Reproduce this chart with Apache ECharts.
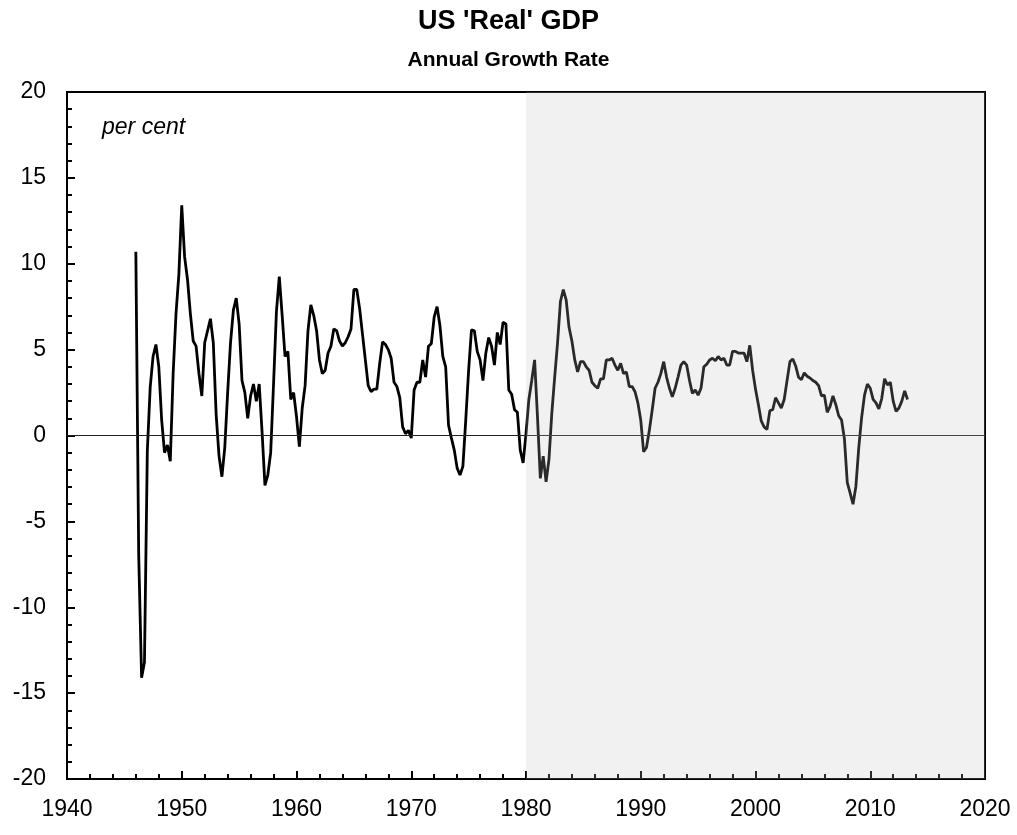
<!DOCTYPE html>
<html>
<head>
<meta charset="utf-8">
<script src="https://cdn.jsdelivr.net/npm/echarts@6/dist/echarts.min.js"></script>
<style>html,body{margin:0;padding:0;background:#fff;}#c{width:1017px;height:835px;}</style>
</head>
<body>
<div id="c"></div>
<script>
// Quarterly annual growth rate (%), first quarter = 1946 Q1
const startYear = 1946;
const growth = [
  10.7, -7.0, -14.1, -13.2,
  -0.9, 2.8, 4.6, 5.3,
  4.0, 0.9, -1.0, -0.55,
  -1.5, 3.6, 7.1, 9.4,
  13.4, 10.4, 9.1, 7.1,
  5.5, 5.2, 3.6, 2.3,
  5.4, 6.1, 6.8, 5.4,
  1.2, -1.2, -2.4, -0.7,
  2.5, 5.4, 7.3, 8.0,
  6.5, 3.2, 2.5, 1.0,
  2.3, 3.0, 2.0, 3.0,
  0.2, -2.9, -2.3, -1.0,
  3.0, 7.2, 9.25, 7.0,
  4.6, 4.9, 2.1, 2.5,
  1.1, -0.65, 1.6, 2.9,
  6.1, 7.6, 7.0, 6.1,
  4.4, 3.6, 3.8, 4.8,
  5.2, 6.2, 6.1, 5.5,
  5.2, 5.4, 5.75, 6.2,
  8.5, 8.5, 7.4, 5.9,
  4.4, 2.9, 2.55, 2.7,
  2.7, 4.2, 5.45, 5.3,
  5.0, 4.5, 3.1, 2.85,
  2.2, 0.5, 0.1, 0.3,
  -0.15, 2.65, 3.1, 3.1,
  4.4, 3.4, 5.2, 5.35,
  6.9, 7.5, 6.4, 4.6,
  4.0, 0.6, -0.15, -0.85,
  -1.9, -2.3, -1.8, 0.9,
  3.8, 6.15, 6.1, 4.9,
  4.4, 3.2, 4.8, 5.7,
  5.2, 4.1, 6.0, 5.3,
  6.6, 6.5, 2.65, 2.4,
  1.5, 1.35, -0.85, -1.6,
  0.1, 2.1, 3.2, 4.4,
  1.1, -2.5, -1.2, -2.7,
  -1.4, 1.3, 3.4, 5.4,
  7.8, 8.5, 7.9, 6.3,
  5.5, 4.4, 3.7, 4.3,
  4.3, 4.0, 3.8, 3.1,
  2.9, 2.75, 3.3, 3.3,
  4.4, 4.4, 4.5, 4.1,
  3.8, 4.2, 3.6, 3.7,
  2.85, 2.85, 2.55, 1.9,
  0.9, -0.95, -0.7, 0.3,
  1.5, 2.75, 3.1, 3.6,
  4.3, 3.4, 2.75, 2.25,
  2.75, 3.4, 4.1, 4.3,
  4.1, 3.2, 2.45, 2.65,
  2.35, 2.75, 4.0, 4.15,
  4.4, 4.5, 4.35, 4.6,
  4.4, 4.5, 4.1, 4.1,
  4.9, 4.9, 4.8, 4.8,
  4.8, 4.3, 5.25, 3.8,
  2.7, 1.8, 0.85, 0.5,
  0.35, 1.45, 1.5, 2.2,
  1.9, 1.6, 2.1, 3.2,
  4.3, 4.45, 4.05, 3.4,
  3.25, 3.65, 3.45, 3.35,
  3.2, 3.1, 2.9, 2.3,
  2.35, 1.35, 1.7, 2.3,
  1.8, 1.15, 0.9, -0.2,
  -2.75, -3.35, -4.0, -2.95,
  -0.7, 1.05, 2.35, 3.0,
  2.75, 2.1, 1.9, 1.55,
  2.15, 3.3, 2.95, 3.1,
  2.0, 1.4, 1.6, 2.0,
  2.6, 2.1
];
const shadeRange = [1980, 2020];
const xTicks = { min: 1940, max: 2020, interval: 10 };
const yTicks = { min: -20, max: 20, interval: 5 };
const titleText = "US 'Real' GDP";
const subtitleText = 'Annual Growth Rate';
const unitText = 'per cent';

const seriesData = growth.map((v, i) => [startYear + i / 4, v]);
const FONT = "'Liberation Sans', Arial, sans-serif";

const chart = echarts.init(document.getElementById('c'), null, { renderer: 'canvas' });
chart.setOption({
  animation: false,
  backgroundColor: '#fff',
  title: [
    { text: titleText, left: 'center', top: 3,
      textStyle: { fontFamily: FONT, fontWeight: 'bold', fontSize: 27, color: '#000' } },
    { text: subtitleText, left: 'center', top: 45,
      textStyle: { fontFamily: FONT, fontWeight: 'bold', fontSize: 21, color: '#000' } },
    { text: unitText, left: 97, top: 111,
      textStyle: { fontFamily: FONT, fontStyle: 'italic', fontWeight: 'normal', fontSize: 23, color: '#000' } }
  ],
  grid: { left: 67, right: 32, top: 92, bottom: 56, show: true, borderColor: '#000', borderWidth: 2, backgroundColor: 'transparent' },
  xAxis: {
    type: 'value', min: xTicks.min, max: xTicks.max, interval: xTicks.interval,
    axisLine: { show: true, onZero: false, lineStyle: { color: '#000', width: 2 } },
    axisTick: { show: true, inside: true, length: 8, lineStyle: { color: '#000', width: 2 } },
    minorTick: { show: true, splitNumber: 5, length: 5, lineStyle: { color: '#000', width: 2 } },
    splitLine: { show: false },
    axisLabel: { fontFamily: FONT, fontSize: 23, color: '#000', margin: 19, formatter: v => String(v) }
  },
  yAxis: {
    type: 'value', min: yTicks.min, max: yTicks.max, interval: yTicks.interval,
    axisLine: { show: true, lineStyle: { color: '#000', width: 2 } },
    axisTick: { show: true, inside: true, length: 8, lineStyle: { color: '#000', width: 2 } },
    minorTick: { show: true, splitNumber: 5, length: 5, lineStyle: { color: '#000', width: 2 } },
    splitLine: { show: false },
    axisLabel: { fontFamily: FONT, fontSize: 23, color: '#000', margin: 21 }
  },
  series: [
    {
      type: 'line', data: seriesData, showSymbol: false, symbol: 'none', z: 2,
      lineStyle: { color: '#000', width: 2.8 },
      markLine: {
        silent: true, symbol: 'none', label: { show: false },
        lineStyle: { color: '#222', width: 1, type: 'solid' },
        data: [{ yAxis: 0 }]
      }
    },
    {
      type: 'line', data: [[shadeRange[1], 0]], showSymbol: false, symbol: 'none', z: 10,
      lineStyle: { width: 0, opacity: 0 },
      markArea: {
        silent: true, z: 10,
        itemStyle: { color: 'rgba(190,190,190,0.22)' },
        data: [[{ xAxis: shadeRange[0] }, { xAxis: shadeRange[1] }]]
      }
    }
  ]
});
</script>
</body>
</html>
